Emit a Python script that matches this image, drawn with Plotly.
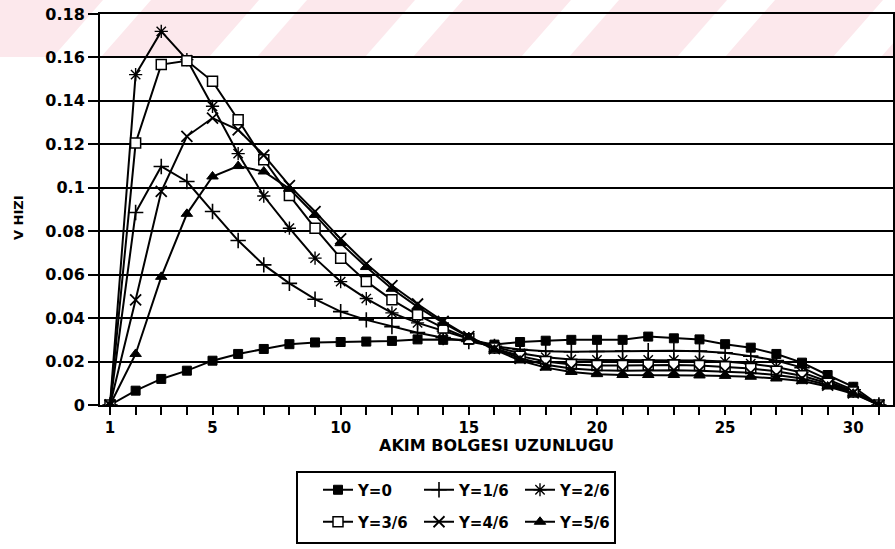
import plotly.graph_objects as go

# Position along the flow region (1..31)
x_pos = list(range(1, 32))

# Velocity profiles for each Y level
v_y0 = [0, 0.0066, 0.0120, 0.0158, 0.0204, 0.0235, 0.0258, 0.0280, 0.0288, 0.0290,
        0.0292, 0.0295, 0.0302, 0.0300, 0.0300, 0.0278, 0.0290, 0.0296, 0.0300, 0.0300,
        0.0300, 0.0315, 0.0307, 0.0302, 0.0280, 0.0264, 0.0235, 0.0195, 0.0138, 0.0084, 0]
v_y1 = [0, 0.0886, 0.1098, 0.1029, 0.0891, 0.0757, 0.0645, 0.0560, 0.0487, 0.0430,
        0.0392, 0.0361, 0.0333, 0.0310, 0.0292, 0.0270, 0.0255, 0.0248, 0.0245, 0.0246,
        0.0248, 0.0250, 0.0250, 0.0248, 0.0240, 0.0225, 0.0205, 0.0172, 0.0118, 0.0070, 0]
v_y2 = [0, 0.1521, 0.1720, 0.1590, 0.1375, 0.1157, 0.0962, 0.0814, 0.0676, 0.0568,
        0.0490, 0.0424, 0.0378, 0.0340, 0.0305, 0.0268, 0.0238, 0.0220, 0.0210, 0.0207,
        0.0207, 0.0208, 0.0208, 0.0205, 0.0200, 0.0190, 0.0175, 0.0150, 0.0108, 0.0064, 0]
v_y3 = [0, 0.1206, 0.1567, 0.1585, 0.1490, 0.1313, 0.1129, 0.0965, 0.0814, 0.0676,
        0.0569, 0.0484, 0.0415, 0.0355, 0.0305, 0.0262, 0.0225, 0.0200, 0.0186, 0.0182,
        0.0182, 0.0184, 0.0184, 0.0182, 0.0176, 0.0168, 0.0155, 0.0135, 0.0100, 0.0060, 0]
v_y4 = [0, 0.0484, 0.0983, 0.1237, 0.1321, 0.1267, 0.1150, 0.1010, 0.0890, 0.0765,
        0.0650, 0.0550, 0.0465, 0.0385, 0.0315, 0.0260, 0.0215, 0.0185, 0.0168, 0.0160,
        0.0158, 0.0160, 0.0160, 0.0158, 0.0154, 0.0148, 0.0138, 0.0122, 0.0092, 0.0056, 0]
v_y5 = [0, 0.0235, 0.0590, 0.0880, 0.1052, 0.1100, 0.1075, 0.0995, 0.0875, 0.0745,
        0.0635, 0.0535, 0.0452, 0.0378, 0.0312, 0.0255, 0.0205, 0.0172, 0.0152, 0.0142,
        0.0138, 0.0138, 0.0138, 0.0136, 0.0134, 0.0130, 0.0122, 0.0110, 0.0085, 0.0052, 0]

series_names = ["Y=0", "Y=1/6", "Y=2/6", "Y=3/6", "Y=4/6", "Y=5/6"]
series_values = [v_y0, v_y1, v_y2, v_y3, v_y4, v_y5]

x_tick_vals = [1, 5, 10, 15, 20, 25, 30]
y_tick_vals = [0, 0.02, 0.04, 0.06, 0.08, 0.1, 0.12, 0.14, 0.16, 0.18]
y_tick_text = ["0", "0.02", "0.04", "0.06", "0.08", "0.1", "0.12", "0.14", "0.16", "0.18"]

# Figure geometry (pixels)
W, H = 895, 549
ML, MR, MT, MB = 100, 2, 14, 144
PW, PH = W - ML - MR, H - MT - MB


def px_x(px):
    return (px - ML) / PW


def px_y(py):
    return (H - MB - py) / PH


marker_styles = [
    dict(symbol="square", size=9, color="black", line=dict(color="black", width=1)),
    dict(symbol="cross-thin-open", size=11, color="black", line=dict(color="black", width=1.6)),
    dict(symbol="asterisk-open", size=11, color="black", line=dict(color="black", width=1.4)),
    dict(symbol="square", size=10, color="white", line=dict(color="black", width=1.5)),
    dict(symbol="x-thin-open", size=11, color="black", line=dict(color="black", width=1.8)),
    dict(symbol="triangle-up", size=10, color="black", line=dict(color="black", width=1)),
]

fig = go.Figure()
for i, (name, vals) in enumerate(zip(series_names, series_values)):
    fig.add_trace(go.Scatter(
        x=x_pos, y=vals, name=name, mode="lines+markers",
        line=dict(color="black", width=2),
        marker=marker_styles[i],
        legend="legend" if i < 3 else "legend2",
    ))

# Faint pink diagonal-striped band along the top edge
shapes = []
band_top, band_bot = 0, 57
period, stripe_w, slant = 156, 108, 50
for k in range(-2, 8):
    xb = 101 + period * k
    path = "M {} {} L {} {} L {} {} L {} {} Z".format(
        px_x(xb), px_y(band_bot), px_x(xb + stripe_w), px_y(band_bot),
        px_x(xb + stripe_w + slant), px_y(band_top), px_x(xb + slant), px_y(band_top))
    shapes.append(dict(type="path", path=path, xref="paper", yref="paper",
                       fillcolor="#fce8ec", line=dict(width=0), layer="below"))

# Legend frame
shapes.append(dict(type="rect", xref="paper", yref="paper",
                   x0=px_x(297), x1=px_x(615), y0=px_y(543), y1=px_y(472),
                   line=dict(color="black", width=2), fillcolor="rgba(0,0,0,0)"))

font = dict(family="DejaVu Sans, sans-serif", size=16, color="black", weight="bold")

legend_common = dict(orientation="h", xanchor="left", yanchor="middle",
                     entrywidth=56, entrywidthmode="pixels",
                     bgcolor="rgba(0,0,0,0)", borderwidth=0, font=dict(size=15),
                     itemclick=False, itemdoubleclick=False, traceorder="normal")

fig.update_layout(
    width=W, height=H,
    margin=dict(l=ML, r=MR, t=MT, b=MB, autoexpand=False),
    paper_bgcolor="white", plot_bgcolor="rgba(0,0,0,0)",
    font=font,
    showlegend=True,
    legend=dict(x=px_x(318), y=px_y(490), **legend_common),
    legend2=dict(x=px_x(318), y=px_y(522), **legend_common),
    shapes=shapes,
    annotations=[
        dict(text="V HIZI", x=px_x(18), y=px_y(218), xref="paper", yref="paper",
             textangle=-90, showarrow=False, font=dict(size=13),
             xanchor="center", yanchor="middle"),
        dict(text="AKIM BOLGESI UZUNLUGU", x=0.5, y=px_y(446), xref="paper", yref="paper",
             showarrow=False, font=dict(size=16), xanchor="center", yanchor="middle"),
    ],
)

fig.update_xaxes(
    range=[0.61, 31.55], tickmode="array", tickvals=x_tick_vals,
    ticks="outside", ticklen=8, tickwidth=2, tickcolor="black",
    minor=dict(ticks="outside", dtick=1, tick0=1, ticklen=8, tickwidth=2, tickcolor="black"),
    showline=True, linecolor="black", linewidth=2, mirror=True,
    showgrid=False, zeroline=False,
    tickfont=dict(size=15), ticklabelstandoff=0,
)
fig.update_yaxes(
    range=[0, 0.18], tickmode="array", tickvals=y_tick_vals, ticktext=y_tick_text,
    ticks="outside", ticklen=10, tickwidth=2, tickcolor="black",
    showline=True, linecolor="black", linewidth=2, mirror=True,
    showgrid=True, gridcolor="black", gridwidth=2, zeroline=False,
    tickfont=dict(size=16),
)

fig.write_html("out.html")
